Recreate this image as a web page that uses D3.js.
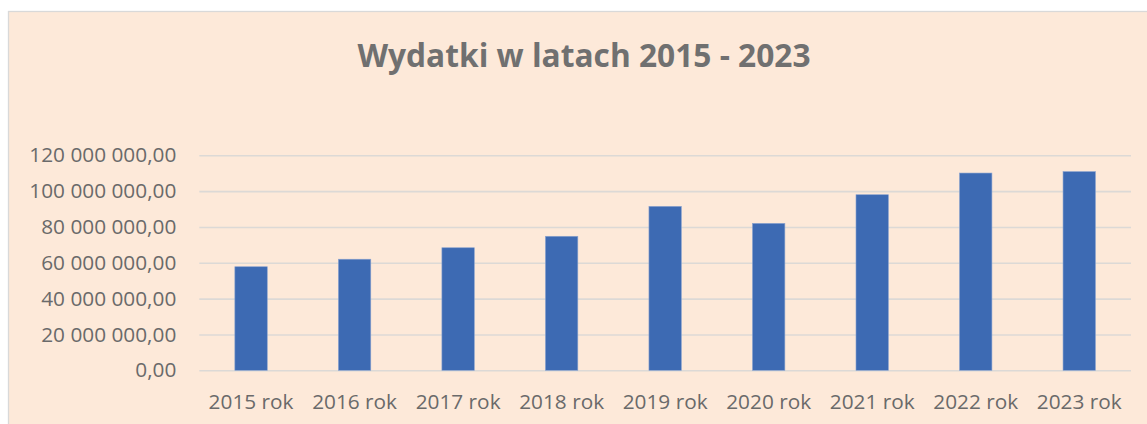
<!DOCTYPE html>
<html>
<head>
<meta charset="utf-8">
<script src="https://cdn.jsdelivr.net/npm/d3@7"></script>
<style>
  html, body { margin: 0; padding: 0; background: #fff; }
  svg { display: block; }
  .tick text { font-family: "Open Sans", sans-serif; fill: #6a6a6a; }
</style>
</head>
<body>
<svg id="chart" width="1147" height="424"></svg>
<script>
// Wydatki (PLN) per year
var years = ["2015 rok", "2016 rok", "2017 rok", "2018 rok", "2019 rok",
             "2020 rok", "2021 rok", "2022 rok", "2023 rok"];
var spending = [57.8e6, 62.0e6, 68.4e6, 74.8e6, 91.5e6, 82.0e6, 98.0e6, 110.1e6, 110.9e6];
var yMax = 120e6;
var title = "Wydatki w latach 2015 - 2023";

(function () {
  var svg = d3.select("#chart");
  var W = 1147, H = 424;

  // chart area (peach card with light border, runs off the right/bottom edge)
  svg.append("rect")
    .attr("x", 8.5).attr("y", 11.5)
    .attr("width", W + 20).attr("height", H + 20)
    .attr("fill", "#fde9d9").attr("stroke", "#d9d9d9").attr("stroke-width", 1.3);

  var plot = { left: 199.3, right: 1131, top: 155.3, bottom: 370.3 };

  var x = d3.scaleBand().domain(years).range([plot.left, plot.right]).padding(0);
  var y = d3.scaleLinear().domain([0, yMax]).range([plot.bottom, plot.top]);

  var pl = d3.formatLocale({ decimal: ",", thousands: " ", grouping: [3], currency: ["", ""] });
  var fmt = pl.format(",.2f");

  // y axis + gridlines
  var gy = svg.append("g").attr("transform", "translate(" + plot.left + ",0)")
    .call(d3.axisLeft(y).ticks(6).tickFormat(fmt)
      .tickSizeInner(-(plot.right - plot.left)).tickSizeOuter(0).tickPadding(23));
  gy.select(".domain").remove();
  gy.selectAll(".tick line").attr("stroke", "#dcd9d6").attr("stroke-width", 1.6);
  gy.selectAll(".tick text").style("font-size", "20.8px");

  // bars
  var barW = x.bandwidth() * 0.313;
  svg.append("g").selectAll("rect").data(spending).join("rect")
    .attr("x", function (d, i) { return x(years[i]) + (x.bandwidth() - barW) / 2; })
    .attr("y", function (d) { return y(d); })
    .attr("width", barW)
    .attr("height", function (d) { return y(0) - y(d); })
    .attr("fill", "#3d6ab3")
    .attr("stroke", "#8aa3cf").attr("stroke-width", 0.6);

  // x axis labels
  var gx = svg.append("g").attr("transform", "translate(0," + plot.bottom + ")")
    .call(d3.axisBottom(x).tickSize(0).tickPadding(24));
  gx.select(".domain").remove();
  gx.selectAll(".tick text").style("font-size", "20.8px");

  // title
  svg.append("text")
    .attr("x", 584).attr("y", 67)
    .attr("text-anchor", "middle")
    .style("font-family", "'Open Sans', sans-serif")
    .style("font-weight", "bold")
    .style("font-size", "31.7px")
    .attr("fill", "#707070")
    .text(title);
})();
</script>
</body>
</html>
